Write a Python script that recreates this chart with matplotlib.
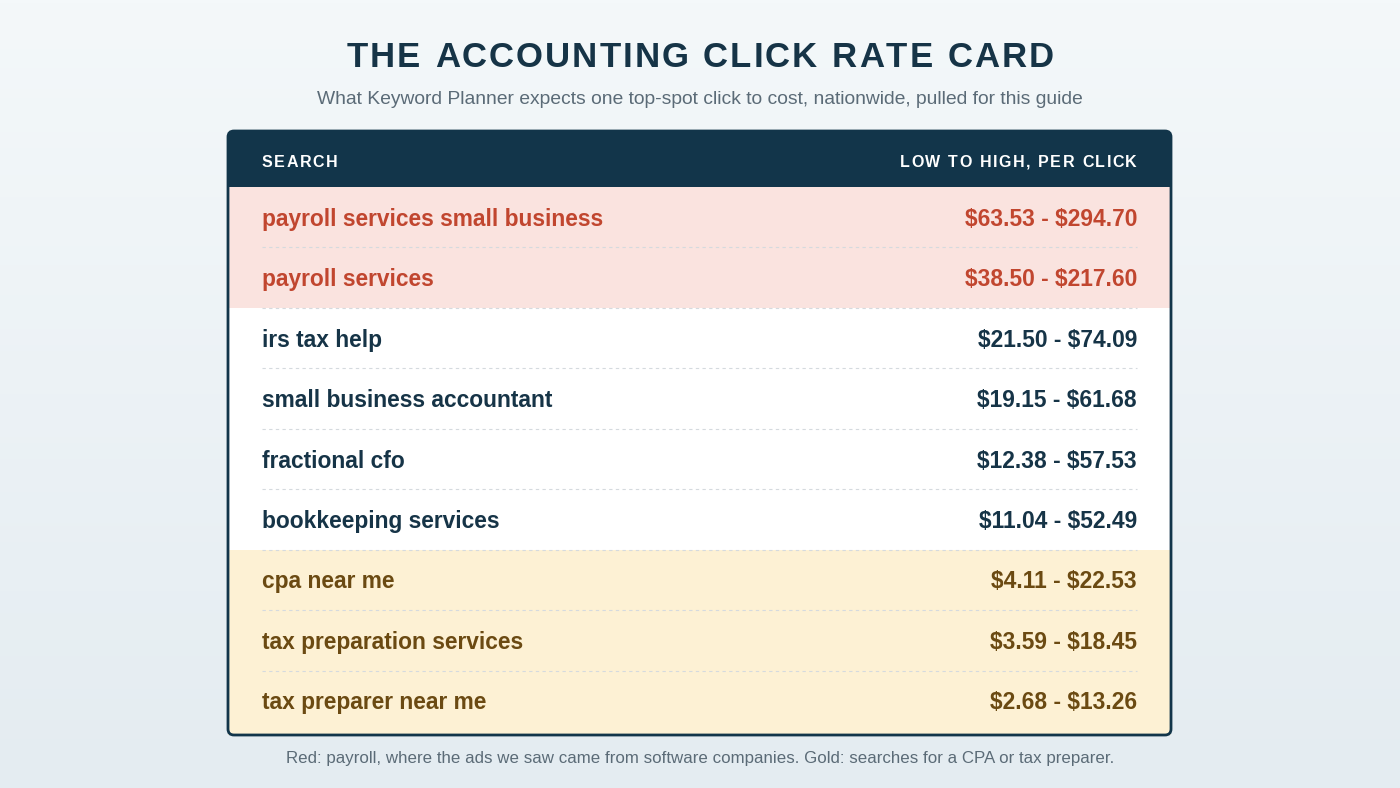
import matplotlib
matplotlib.use("Agg")
import matplotlib.pyplot as plt
import numpy as np
from matplotlib.patches import FancyBboxPatch, Rectangle
from matplotlib.colors import LinearSegmentedColormap

plt.rcParams['font.family'] = ['Liberation Sans', 'DejaVu Sans']

keywords = ["payroll services small business", "payroll services", "irs tax help",
            "small business accountant", "fractional cfo", "bookkeeping services",
            "cpa near me", "tax preparation services", "tax preparer near me"]
low = [63.53, 38.50, 21.50, 19.15, 12.38, 11.04, 4.11, 3.59, 2.68]
high = [294.70, 217.60, 74.09, 61.68, 57.53, 52.49, 22.53, 18.45, 13.26]
group = ["red", "red", "navy", "navy", "navy", "navy", "gold", "gold", "gold"]

bg = {"red": "#fae3df", "navy": "#ffffff", "gold": "#fdf1d4"}
fg = {"red": "#c1462f", "navy": "#163447", "gold": "#6b4a12"}
NAVY = "#12354a"

W, H = 1400, 788
fig = plt.figure(figsize=(14, 7.88), dpi=100)
ax = fig.add_axes([0, 0, 1, 1])
ax.set_xlim(0, W); ax.set_ylim(H, 0); ax.axis("off")

grad = np.linspace(0, 1, 256).reshape(-1, 1)
cm = LinearSegmentedColormap.from_list("g", ["#f4f8fa", "#e4ecf1"])
ax.imshow(grad, cmap=cm, extent=[0, W, H, 0], aspect="auto", zorder=0)

def spaced(x, y, s, ha, size, color, spacing, **kw):
    """Draw letter-spaced text; x is the anchor (left/right/center)."""
    r = fig.canvas.get_renderer()
    ws = []
    for ch in s:
        t = ax.text(0, 0, ch if ch != " " else "n", fontsize=size, fontweight="bold")
        bb = t.get_window_extent(renderer=r)
        w = bb.width * (0.5 if ch == " " else 1.0)
        ws.append(w); t.remove()
    total = sum(ws) + spacing * (len(s) - 1)
    start = x if ha == "left" else (x - total if ha == "right" else x - total / 2)
    cx = start
    for ch, w in zip(s, ws):
        if ch != " ":
            ax.text(cx, y, ch, ha="left", va="center", fontsize=size, fontweight="bold",
                    color=color, zorder=5, **kw)
        cx += w + spacing

spaced(700, 57, "THE ACCOUNTING CLICK RATE CARD", "center", 25, "#163447", 2.0)
ax.text(700, 99, "What Keyword Planner expects one top-spot click to cost, nationwide, pulled for this guide",
        ha="center", va="center", fontsize=13.9, color="#5b6b77", zorder=5)

x0, x1, y0, y1 = 228, 1171, 131, 735
ax.add_patch(FancyBboxPatch((x0, y0), x1 - x0, y1 - y0, boxstyle="round,pad=0,rounding_size=6",
                            fc="white", ec="none", zorder=1))
hh = 56
ax.add_patch(Rectangle((x0, y0 + 6), x1 - x0, hh - 6, fc=NAVY, ec="none", zorder=2))
ax.add_patch(FancyBboxPatch((x0, y0), x1 - x0, 20, boxstyle="round,pad=0,rounding_size=6",
                            fc=NAVY, ec="none", zorder=2))
spaced(262, 162, "SEARCH", "left", 11.5, "white", 1.5)
spaced(1137, 162, "LOW TO HIGH, PER CLICK", "right", 11.5, "white", 1.5)

rh = (y1 - 4 - (y0 + hh)) / len(keywords)
for i, (k, lo, hi, g) in enumerate(zip(keywords, low, high, group)):
    top = y0 + hh + i * rh
    ax.add_patch(Rectangle((x0, top), x1 - x0, rh + (4 if i == len(keywords) - 1 else 0),
                           fc=bg[g], ec="none", zorder=2))
    cy = top + rh / 2 + 2
    ax.text(262, cy, k, ha="left", va="center", fontsize=16.4, fontweight="bold", color=fg[g], zorder=5)
    ax.text(1137, cy, f"\\${lo:.2f} - \\${hi:.2f}", ha="right", va="center", fontsize=16.4,
            fontweight="bold", color=fg[g], zorder=5)
    if i < len(keywords) - 1:
        ax.plot([262, 1137], [top + rh, top + rh], ls=(0, (3, 3)), lw=0.8, color="#d5dade", zorder=4)

ax.add_patch(FancyBboxPatch((x0, y0), x1 - x0, y1 - y0, boxstyle="round,pad=0,rounding_size=6",
                            fc="none", ec=NAVY, lw=2, zorder=6))

ax.text(700, 758, "Red: payroll, where the ads we saw came from software companies. Gold: searches for a CPA or tax preparer.",
        ha="center", va="center", fontsize=12.2, color="#5b6b77", zorder=5)

fig.savefig("out.png", dpi=100)
